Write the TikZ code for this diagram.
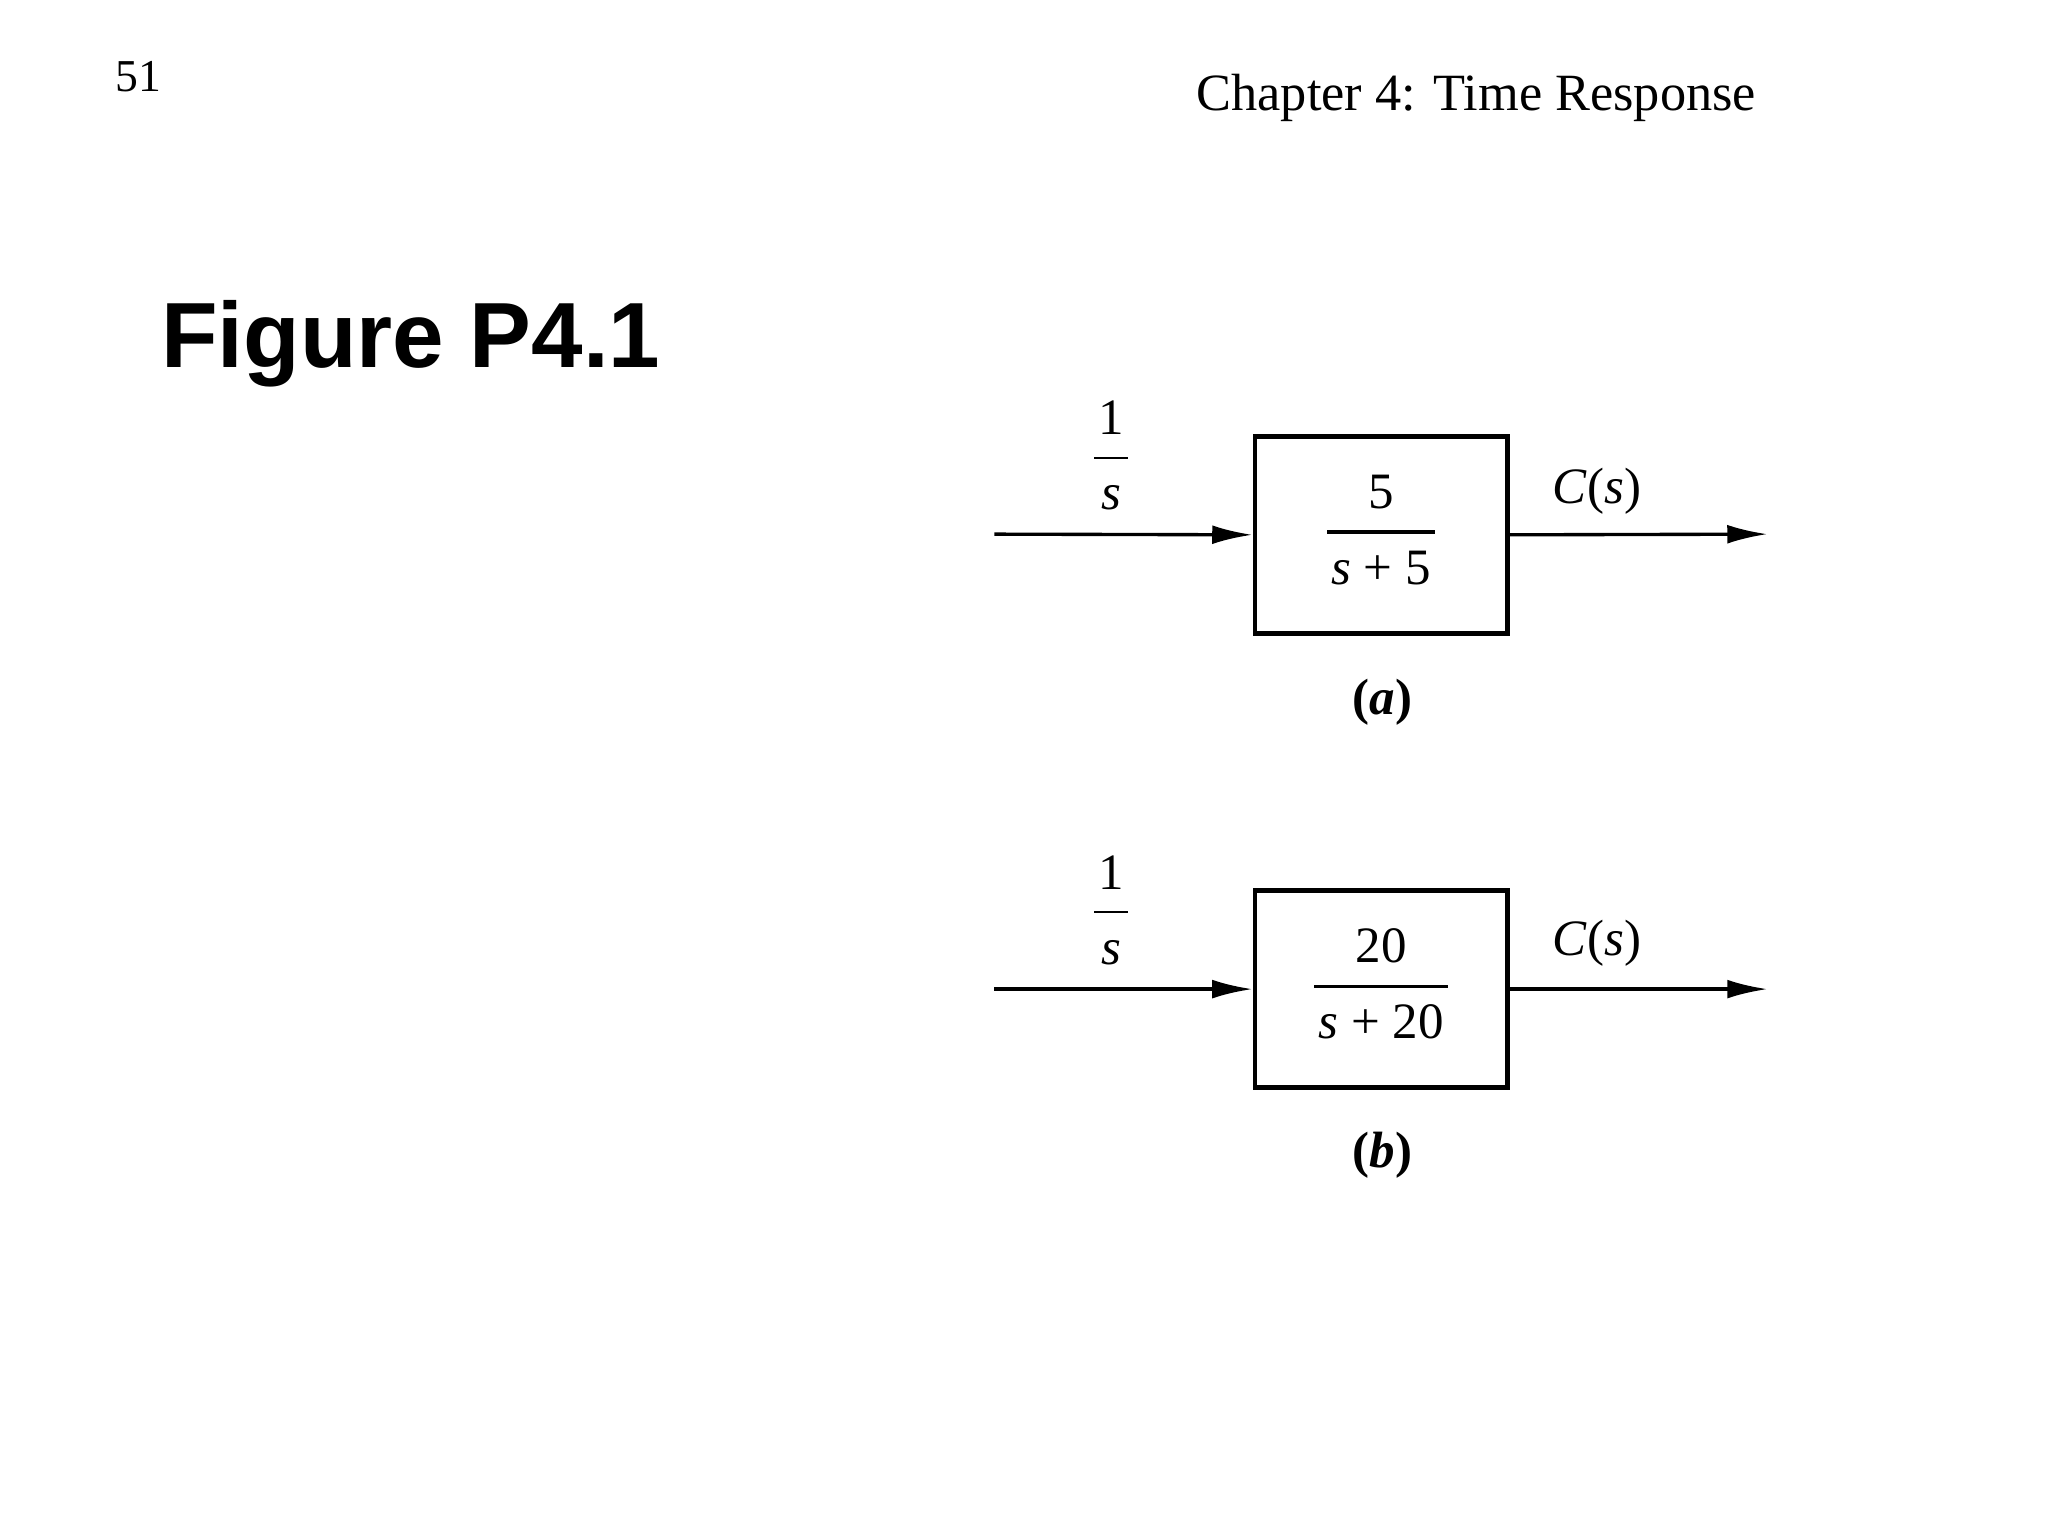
\documentclass[tikz,border=0pt]{standalone}
\usepackage{fontspec}
\setmainfont{Liberation Serif}
\setsansfont{Liberation Sans}
\usetikzlibrary{arrows.meta}
\tikzset{blk/.style={draw,line width=3.5pt,minimum width=188pt,minimum height=147pt,inner sep=0pt},
sig/.style={line width=2.5pt,-{Latex[length=30pt,width=14pt]}},
lbl/.style={font=\fontsize{38}{44}\selectfont,inner sep=0pt}}
\newcommand{\myfr}[3]{{\setlength{\arrayrulewidth}{#3}\setlength{\tabcolsep}{3pt}\begin{tabular}{c}#1\\[3pt]\hline\rule{0pt}{38pt}#2\end{tabular}}}
\begin{document}
\begin{tikzpicture}[x=1pt,y=-1pt]
\useasboundingbox (0,0) rectangle (1526,1145);
\node[font=\fontsize{34}{40}\selectfont] (pg) at (103,57) {51};
\node[font=\fontsize{39}{46}\selectfont] (ch) at (1100,73) {Chapter 4: Time Response};
\node[font=\fontsize{69}{80}\selectfont\sffamily\bfseries,anchor=west,inner sep=0pt] (fig) at (120,256) {Figure P4.1};
% (a)
\node[blk,lbl] (ba) at (1029,398.5) {\myfr{5}{\textit{s} + 5}{2.5pt}};
\coordinate (ia) at (741,398); \coordinate (oa) at (1317,398);
\draw[sig] (ia) -- (ba.west);
\draw[sig] (ba.east) -- (oa);
\node[lbl] (sa) at (828,343) {\myfr{1}{\textit{s}}{1.5pt}};
\node[lbl] (ca) at (1190,366) {\textit{C}(\textit{s})};
\node[lbl] (la) at (1030,523) {\textbf{(\textit{a})}};
% (b)
\node[blk,lbl] (bb) at (1029,737) {\myfr{20}{\textit{s} + 20}{2.5pt}};
\coordinate (ib) at (741,737); \coordinate (ob) at (1317,737);
\draw[sig] (ib) -- (bb.west);
\draw[sig] (bb.east) -- (ob);
\node[lbl] (sb) at (828,682) {\myfr{1}{\textit{s}}{1.5pt}};
\node[lbl] (cb) at (1190,703) {\textit{C}(\textit{s})};
\node[lbl] (lb) at (1030,861) {\textbf{(\textit{b})}};
\end{tikzpicture}
\end{document}
